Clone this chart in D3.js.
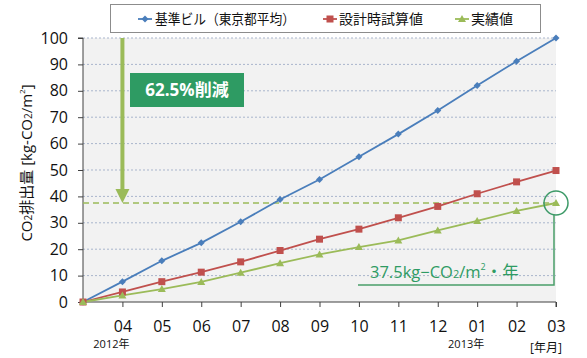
<!DOCTYPE html>
<html><head><meta charset="utf-8">
<script src="https://cdn.jsdelivr.net/npm/d3@7/dist/d3.min.js"></script>
<style>
html,body{margin:0;padding:0;background:#fff;}
svg{display:block;font-family:'Open Sans','Noto Sans CJK JP',sans-serif;}
</style></head><body>
<svg id="c" width="587" height="358"></svg>
<script>
const months = ["", "04","05","06","07","08","09","10","11","12","01","02","03"];
const seriesNames = ["基準ビル（東京都平均）","設計時試算値","実績値"];
const baseValues = [0, 7.7, 15.6, 22.4, 30.4, 38.8, 46.4, 55.0, 63.6, 72.5, 82.0, 91.2, 100];
const designValues = [0, 3.8, 7.7, 11.3, 15.2, 19.5, 23.8, 27.6, 31.9, 36.2, 41.0, 45.5, 49.8];
const actualValues = [0, 2.5, 4.9, 7.6, 11.1, 14.7, 18.0, 20.8, 23.3, 27.1, 30.7, 34.5, 37.5];
const yTicks = [0,10,20,30,40,50,60,70,80,90,100];
const targetValue = 37.5;
const reductionLabel = "62.5%削減";
const yearLabels = [{i:1, t:"2012年"}, {i:10, t:"2013年"}];

const svg = d3.select("#c");
const x = d3.scaleLinear().domain([0,12]).range([83,556]);
const y = d3.scaleLinear().domain([0,100]).range([302,38]);
const colors = ["#4a7ebb","#c0504d","#9bbb59"];
const darkGreen = "#2e9b63";

// plot background
svg.append("rect").attr("x",x(0)).attr("y",y(100)).attr("width",x(12)-x(0)).attr("height",y(0)-y(100)).attr("fill","#f2f2f2");

// gridlines
svg.append("g").selectAll("line").data(yTicks.filter(d=>d>0)).join("line")
  .attr("x1",x(0)).attr("x2",x(12)).attr("y1",d=>y(d)).attr("y2",d=>y(d))
  .attr("stroke","#a9b5cc").attr("stroke-width",1).attr("stroke-dasharray","2,2");

// y axis
const yAxis = d3.axisLeft(y).tickValues(yTicks).tickSize(5).tickPadding(4);
const gy = svg.append("g").attr("transform",`translate(${x(0)},0)`).call(yAxis);
gy.select(".domain").attr("stroke","#404040").attr("d",`M-5,${y(100)}H0V${y(0)}`);
gy.selectAll(".tick line").attr("stroke","#404040");
gy.selectAll(".tick text").attr("font-size",16).attr("fill","#111").attr("font-family","'Open Sans',sans-serif").attr("dx",-6);

// x axis
const xAxis = d3.axisBottom(x).tickValues(d3.range(1,13)).tickFormat(i=>months[i]).tickSize(5).tickPadding(14);
const gx = svg.append("g").attr("transform",`translate(0,${y(0)})`).call(xAxis);
gx.select(".domain").attr("stroke","#404040").attr("d",`M${x(0)},0H${x(12)}V5`);
gx.selectAll(".tick line").attr("stroke","#404040");
gx.selectAll(".tick text").attr("font-size",16).attr("fill","#111").attr("font-family","'Open Sans',sans-serif");

// year labels
svg.append("g").selectAll("text").data(yearLabels).join("text")
  .attr("x",d=>x(d.i)-11).attr("y",348).attr("text-anchor","middle")
  .attr("font-size",11).attr("fill","#111").text(d=>d.t);
svg.append("text").attr("x",546).attr("y",352).attr("text-anchor","middle").attr("font-size",12).attr("fill","#111").text("[年月]");

// y title
const yt = svg.append("text").attr("transform","translate(32,163) rotate(-90)").attr("text-anchor","middle")
  .attr("font-size",15).attr("fill","#111");
yt.append("tspan").text("CO");
yt.append("tspan").attr("font-size",10).text("2");
yt.append("tspan").text("排出量 [kg-CO");
yt.append("tspan").attr("font-size",10).text("2");
yt.append("tspan").text("/m");
yt.append("tspan").attr("font-size",8).attr("dy",-7).text("2");
yt.append("tspan").attr("dy",7).text("]");

// dashed target line
svg.append("line").attr("x1",x(0)).attr("x2",x(12)).attr("y1",y(targetValue)).attr("y2",y(targetValue))
  .attr("stroke","#9bbb59").attr("stroke-width",1.5).attr("stroke-dasharray","6,4");

// arrow
const ax = x(1);
svg.append("line").attr("x1",ax).attr("x2",ax).attr("y1",y(100)).attr("y2",y(targetValue)-13)
  .attr("stroke","#9bbb59").attr("stroke-width",4);
svg.append("path").attr("d",`M${ax-7},${y(targetValue)-14}L${ax+7},${y(targetValue)-14}L${ax},${y(targetValue)}Z`).attr("fill","#9bbb59");

// series
const data = [baseValues, designValues, actualValues];
const line = d3.line().x((d,i)=>x(i)).y(d=>y(d));
data.forEach((vals,k)=>{
  svg.append("path").datum(vals).attr("d",line).attr("fill","none").attr("stroke",colors[k]).attr("stroke-width",1.8);
});
// markers
svg.append("g").selectAll("path").data(baseValues).join("path")
  .attr("transform",(d,i)=>`translate(${x(i)},${y(d)})`).attr("d","M0,-3.5L3.5,0L0,3.5L-3.5,0Z").attr("fill",colors[0]);
svg.append("g").selectAll("rect").data(designValues).join("rect")
  .attr("x",(d,i)=>x(i)-3.5).attr("y",d=>y(d)-3.5).attr("width",7).attr("height",7).attr("fill",colors[1]);
svg.append("g").selectAll("path").data(actualValues).join("path")
  .attr("transform",(d,i)=>`translate(${x(i)},${y(d)})`).attr("d","M0,-4L4,3L-4,3Z").attr("fill",colors[2]);

// reduction box
svg.append("rect").attr("x",130).attr("y",73).attr("width",114).attr("height",34).attr("fill",darkGreen);
svg.append("text").attr("x",187).attr("y",96).attr("text-anchor","middle").attr("font-size",17).attr("font-weight","bold")
  .attr("fill","#fff").text(reductionLabel);

// circle & callout
const cx = x(12), cy = y(targetValue);
svg.append("circle").attr("cx",cx).attr("cy",cy).attr("r",12).attr("fill","none").attr("stroke","#3d9a68").attr("stroke-width",1.5);
svg.append("path").attr("d",`M${cx-2},${cy+12}V285H358`).attr("fill","none").attr("stroke","#4a9e6a").attr("stroke-width",1.5);
const ct = svg.append("text").attr("x",370).attr("y",278).attr("font-size",16.5).attr("fill",darkGreen);
ct.append("tspan").text("37.5kg−CO");
ct.append("tspan").attr("font-size",11).text("2");
ct.append("tspan").text("/m");
ct.append("tspan").attr("font-size",9).attr("dy",-8).text("2");
ct.append("tspan").attr("dy",8).text("・年");

// legend
svg.append("rect").attr("x",110.5).attr("y",4.5).attr("width",430).attr("height",28).attr("fill","#fff").attr("stroke","#8c8c8c");
const leg = [{lx:138, tx:155, tl:140}, {lx:323, tx:339, tl:null}, {lx:455, tx:471, tl:null}];
leg.forEach((l,k)=>{
  svg.append("line").attr("x1",l.lx).attr("x2",l.lx+14).attr("y1",19).attr("y2",19).attr("stroke",colors[k]).attr("stroke-width",1.8);
  const m = l.lx+7;
  if(k===0) svg.append("path").attr("d",`M${m},15.5L${m+3.5},19L${m},22.5L${m-3.5},19Z`).attr("fill",colors[0]);
  if(k===1) svg.append("rect").attr("x",m-3.5).attr("y",15.5).attr("width",7).attr("height",7).attr("fill",colors[1]);
  if(k===2) svg.append("path").attr("d",`M${m},15L${m+4},22L${m-4},22Z`).attr("fill",colors[2]);
  const t = svg.append("text").attr("x",l.tx).attr("y",24).attr("font-size",14).attr("fill","#111").text(seriesNames[k]);
  if(l.tl) t.attr("textLength",l.tl).attr("lengthAdjust","spacingAndGlyphs");
});
</script>
</body></html>
